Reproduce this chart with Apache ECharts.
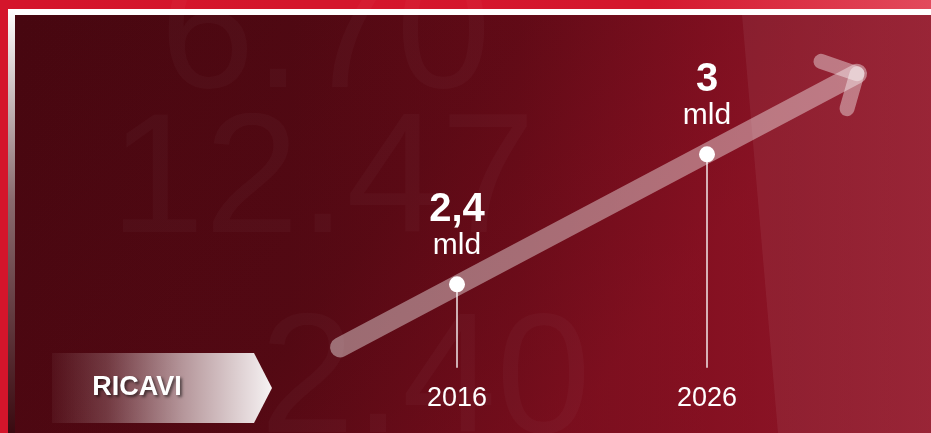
<!DOCTYPE html>
<html>
<head>
<meta charset="utf-8">
<script src="https://cdn.jsdelivr.net/npm/echarts@6/dist/echarts.min.js"></script>
<style>
  html, body { margin: 0; padding: 0; background: #d4152b; }
  #chart { width: 931px; height: 433px; }
</style>
</head>
<body>
<div id="chart"></div>
<script>
// revenue points
const years = [2016, 2026]
const revenue = [2.4, 3]
const valueLabels = ['2,4', '3']
const unitLabel = 'mld'
const tickYears = [2016, 2026]
const badgeText = 'RICAVI'

// trend arrow (shaft + two head strokes), same scales as the points
const shaftYears = [2011.32, 2032]
const shaftValues = [2.109, 3.372]
const headAYears = [2030.56, 2032]
const headAValues = [3.429, 3.372]
const headBYears = [2031.6, 2032]
const headBValues = [3.211, 3.372]
const dropBase = 2.015

const FONT = 'Liberation Sans, Arial, sans-serif'
const zip = (xs, ys) => xs.map((x, i) => [x, ys[i]])

const chart = echarts.init(document.getElementById('chart'))

const arrowStroke = (data, width) => ({
  type: 'line',
  data,
  symbol: 'none',
  silent: true,
  z: 3,
  lineStyle: { color: 'rgba(255,255,255,0.4)', width, cap: 'round', join: 'round' },
})

// faint blurred digits of the background photo
const ghostText = (text, left, top) => ({
  type: 'text', z: -15, silent: true, left, top,
  style: {
    text, fontSize: 170, fontFamily: FONT,
    fill: 'rgba(255,255,255,0.028)',
    shadowColor: 'rgba(255,255,255,0.05)', shadowBlur: 12,
  },
})

chart.setOption({
  backgroundColor: '#d4152b',
  animation: false,
  grid: { left: 207, right: 24, top: 46, bottom: 62 },
  xAxis: {
    type: 'value',
    min: 2006,
    max: 2034,
    interval: 10,
    axisLine: { show: false },
    axisTick: { show: false },
    splitLine: { show: false },
    axisLabel: {
      color: '#fff',
      fontSize: 27,
      lineHeight: 28,
      fontFamily: FONT,
      margin: 14,
      formatter: (v) => (tickYears.includes(v) ? String(v) : ''),
    },
  },
  yAxis: {
    type: 'value',
    min: 2,
    max: 3.5,
    show: false,
  },
  graphic: [
    // top strip of the outer frame, lighter on the right
    {
      type: 'rect', z: -20, silent: true,
      shape: { x: 0, y: 0, width: 931, height: 9 },
      style: {
        fill: new echarts.graphic.LinearGradient(0, 0, 1, 0, [
          { offset: 0, color: '#d4152b' },
          { offset: 0.7, color: '#d4172d' },
          { offset: 1, color: '#e24a5c' },
        ]),
      },
    },
    // white frame line
    { type: 'rect', z: -19, silent: true, shape: { x: 8, y: 9, width: 923, height: 6 }, style: { fill: '#ffffff' } },
    {
      type: 'rect', z: -19, silent: true,
      shape: { x: 8, y: 9, width: 7, height: 424 },
      style: {
        fill: new echarts.graphic.LinearGradient(0, 0, 0, 1, [
          { offset: 0, color: '#ffffff' },
          { offset: 0.45, color: '#8a6a6e' },
          { offset: 1, color: '#3a0a10' },
        ]),
      },
    },
    // dark red panel
    {
      type: 'rect', z: -18, silent: true,
      shape: { x: 15, y: 15, width: 916, height: 418 },
      style: {
        fill: new echarts.graphic.LinearGradient(0, 0, 1, 0, [
          { offset: 0, color: '#470710' },
          { offset: 0.3, color: '#4a0811' },
          { offset: 0.55, color: '#5a0a15' },
          { offset: 0.75, color: '#720e1d' },
          { offset: 1, color: '#8a1a2c' },
        ]),
      },
    },
    // redder lower right
    {
      type: 'rect', z: -17, silent: true,
      shape: { x: 15, y: 15, width: 916, height: 418 },
      style: {
        fill: new echarts.graphic.LinearGradient(0, 0, 0.6, 1, [
          { offset: 0, color: 'rgba(150,15,35,0)' },
          { offset: 0.6, color: 'rgba(150,15,35,0.12)' },
          { offset: 1, color: 'rgba(160,20,40,0.4)' },
        ]),
      },
    },
    // lighter screen panel on the right
    {
      type: 'polygon', z: -16, silent: true,
      shape: { points: [[742, 15], [931, 15], [931, 433], [778, 433]] },
      style: { fill: 'rgba(255,255,255,0.06)' },
    },
    ghostText('6.70', 160, -45),
    ghostText('12.47', 110, 100),
    ghostText('2.40', 260, 300),
    // RICAVI badge
    {
      type: 'polygon', z: 5, silent: true,
      shape: { points: [[52, 353], [254, 353], [272, 388], [254, 423], [52, 423]] },
      style: {
        fill: new echarts.graphic.LinearGradient(0, 0, 1, 0, [
          { offset: 0, color: 'rgba(255,255,255,0.04)' },
          { offset: 0.25, color: 'rgba(255,255,255,0.2)' },
          { offset: 0.6, color: 'rgba(255,255,255,0.58)' },
          { offset: 1, color: 'rgba(255,255,255,0.95)' },
        ]),
      },
    },
    {
      type: 'text', z: 6, silent: true, x: 137, y: 388,
      style: {
        text: badgeText,
        fontSize: 27,
        fontWeight: 'bold',
        fontFamily: FONT,
        fill: '#ffffff',
        align: 'center',
        verticalAlign: 'middle',
        textShadowColor: 'rgba(0,0,0,0.55)',
        textShadowBlur: 3,
        textShadowOffsetX: 2,
        textShadowOffsetY: 2,
      },
    },
  ],
  series: [
    arrowStroke(zip(shaftYears, shaftValues), 20),
    arrowStroke(zip(headAYears, headAValues), 15),
    arrowStroke(zip(headBYears, headBValues), 15),
    {
      type: 'line',
      z: 5,
      data: zip(years, revenue),
      symbol: 'circle',
      symbolSize: 16,
      itemStyle: { color: '#ffffff' },
      lineStyle: { width: 0, opacity: 0 },
      label: {
        show: true,
        position: 'top',
        distance: 16,
        formatter: (p) => `{v|${valueLabels[p.dataIndex]}}\n{u|${unitLabel}}`,
        rich: {
          v: { fontSize: 40, fontWeight: 'bold', lineHeight: 41, color: '#fff', fontFamily: FONT, align: 'center' },
          u: { fontSize: 30, lineHeight: 30, color: '#fff', fontFamily: FONT, align: 'center' },
        },
      },
      markLine: {
        silent: true,
        symbol: ['none', 'none'],
        label: { show: false },
        lineStyle: { color: 'rgba(255,255,255,0.9)', width: 1.5, type: 'solid' },
        data: years.map((y, i) => [{ coord: [y, dropBase] }, { coord: [y, revenue[i]] }]),
      },
    },
  ],
})
</script>
</body>
</html>
